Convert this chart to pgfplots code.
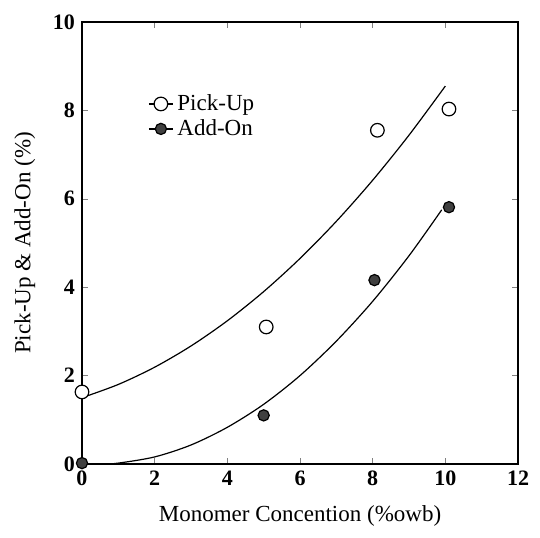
\documentclass[border=0pt]{standalone}
\usepackage{pgfplots}
\pgfplotsset{compat=1.18}
\usepackage{fontspec}
\setmainfont{Liberation Serif}
\begin{document}
\begin{tikzpicture}
\begin{axis}[
  scale only axis,
  width=218pt, height=221pt,
  xmin=0, xmax=12, ymin=0, ymax=10,
  xtick={0,2,...,12}, ytick={0,2,...,10},
  tick align=inside,
  major tick length=3pt,
  /pgf/number format/assume math mode=true,
  tick label style={font=\bfseries\fontsize{11}{13}\selectfont},
  xlabel={Monomer Concention (\%owb)},
  ylabel={Pick-Up \& Add-On (\%)},
  label style={font=\fontsize{11.5}{13}\selectfont},
  xlabel style={yshift=-3pt},
  ylabel style={yshift=2pt},
  axis line style={line width=0.7pt},
  clip=false,
  legend style={draw=none, fill=none, at={(axis cs:1.65,8.55)}, anchor=north west, font=\fontsize{11.5}{13}\selectfont, row sep=-1pt},
  legend cell align=left,
  legend image code/.code={
    \draw[black, line width=0.6pt] (0cm,0cm) -- (0.42cm,0cm);
    \draw[mark repeat=2, mark phase=2, #1] plot coordinates {(0cm,0cm) (0.21cm,0cm) (0.42cm,0cm)};
  },
]
\addplot[black, line width=0.6pt, mark=*, mark size=3.4pt, only marks, mark options={fill=white, draw=black, line width=0.6pt}] coordinates {
  (0,1.63) (5.07,3.1) (8.13,7.55) (10.1,8.03)
};
\addlegendentry{Pick-Up}
\addplot[black, line width=0.6pt, mark=*, mark size=2.8pt, only marks, mark options={fill=black!75, draw=black}] coordinates {
  (0,0.02) (5.0,1.1) (8.05,4.16) (10.1,5.81)
};
\addlegendentry{Add-On}
\addplot[black, line width=0.6pt, smooth, forget plot] coordinates {
  (0,1.5) (1,1.80) (2,2.19) (3,2.67) (4,3.24) (5,3.90) (6,4.65) (7,5.49) (8,6.42) (9,7.44) (10,8.55)
};
\addplot[black, line width=0.6pt, smooth, forget plot] coordinates {
  (0,0) (0.6,0) (1,0.02) (2,0.16) (3,0.43) (4,0.83) (5,1.35) (6,2.0) (7,2.78) (8,3.68) (9,4.71) (9.9,5.75)
};
\end{axis}
\pgfresetboundingbox
\path ([shift={(-41pt,-37pt)}]current axis.south west) rectangle ([shift={(11pt,11pt)}]current axis.north east);
\end{tikzpicture}
\end{document}
